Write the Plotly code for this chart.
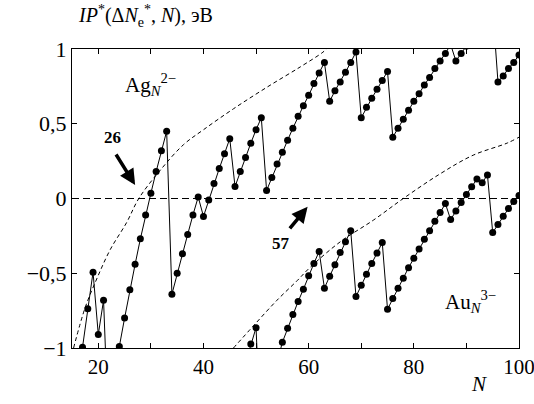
import plotly.graph_objects as go

# ---- data ----
ag_n = list(range(17, 101))
ag_ip = [-0.995, -0.738, -0.493, -0.91, -0.68, -1.6, -1.3, -0.99, -0.80, -0.61,
         -0.44, -0.27, -0.11, 0.035, 0.18, 0.32, 0.45, -0.64, -0.50, -0.37,
         -0.24, -0.11, 0.01, -0.12, -0.01, 0.10, 0.20, 0.30, 0.40, 0.08,
         0.18, 0.275, 0.37, 0.46, 0.54, 0.054, 0.14, 0.23, 0.31, 0.39,
         0.47, 0.55, 0.62, 0.69, 0.77, 0.84, 0.91, 0.65, 0.72, 0.78,
         0.845, 0.91, 0.98, 0.54, 0.61, 0.67, 0.73, 0.79, 0.85, 0.41,
         0.47, 0.53, 0.59, 0.65, 0.70, 0.76, 0.81, 0.87, 0.92, 0.97,
         1.03, 0.92, 0.97, 1.02, 1.07, 1.12, 1.17, 1.22, 1.27, 0.78,
         0.82, 0.87, 0.91, 0.96]

au_n = list(range(48, 101))
au_ip = [-1.1, -0.973, -0.864, -1.7, -1.5, -1.3, -1.1, -0.962, -0.868, -0.776,
         -0.689, -0.607, -0.517, -0.434, -0.354, -0.60, -0.52, -0.443, -0.362, -0.289,
         -0.215, -0.656, -0.58, -0.506, -0.434, -0.365, -0.295, -0.741, -0.669, -0.60,
         -0.533, -0.463, -0.40, -0.338, -0.273, -0.215, -0.152, -0.094, -0.034, -0.141,
         -0.083, -0.027, 0.027, 0.078, 0.13, 0.105, 0.158, -0.228, -0.174, -0.119,
         -0.067, -0.02, 0.02]

ag_fit_n = [15.3, 17.5, 19.8, 22.3, 25.4, 27.7, 31.8, 36.2, 40.0, 45.7, 52.1, 58.4, 62.5, 63.4]
ag_fit_v = [-1.0, -0.73, -0.53, -0.34, -0.16, 0.0, 0.19, 0.36, 0.46, 0.60, 0.745, 0.88, 0.973, 1.0]

au_fit_n = [45.7, 49.8, 54.0, 57.8, 60.3, 66.0, 72.3, 78.0, 85.0, 91.3, 97.7, 100]
au_fit_v = [-1.0, -0.84, -0.68, -0.55, -0.46, -0.29, -0.145, 0.0, 0.165, 0.29, 0.37, 0.41]

x_ticks = [20, 40, 60, 80, 100]
y_ticks = [-1, -0.5, 0, 0.5, 1]
y_tick_text = ["−1", "−0,5", "0", "0,5", "1"]

FONT = "Liberation Serif"

fig = go.Figure()

# zero line
fig.add_trace(go.Scatter(x=[15, 100], y=[0, 0], mode="lines",
                         line=dict(color="black", width=1, dash="7px,4px"),
                         hoverinfo="skip", showlegend=False))
# fit curves
fig.add_trace(go.Scatter(x=ag_fit_n, y=ag_fit_v, mode="lines",
                         line=dict(color="black", width=1, dash="4px,3px", shape="spline"),
                         showlegend=False))
fig.add_trace(go.Scatter(x=au_fit_n, y=au_fit_v, mode="lines",
                         line=dict(color="black", width=1, dash="4px,3px", shape="spline"),
                         showlegend=False))
# data series
fig.add_trace(go.Scatter(x=ag_n, y=ag_ip, mode="lines+markers",
                         line=dict(color="black", width=1),
                         marker=dict(color="black", size=7), showlegend=False))
fig.add_trace(go.Scatter(x=au_n, y=au_ip, mode="lines+markers",
                         line=dict(color="black", width=1),
                         marker=dict(color="black", size=7), showlegend=False))

axis_common = dict(showgrid=False, zeroline=False, showline=True, linecolor="black",
                   linewidth=1, mirror="ticks", ticks="inside", ticklen=5,
                   tickcolor="black", automargin=False, ticklabeloverflow="allow")

fig.update_xaxes(range=[15, 100], tickvals=x_ticks,
                 tickfont=dict(family=FONT, size=21, color="black"),
                 minor=dict(dtick=10, tick0=0, ticks="inside", ticklen=5, tickcolor="black"),
                 **axis_common)
fig.update_yaxes(range=[-1, 1], tickvals=y_ticks, ticktext=y_tick_text,
                 tickfont=dict(family=FONT, size=22, color="black"), **axis_common)

ann = []
ann.append(dict(xref="paper", yref="paper", x=0.0, y=1.0, xshift=4, yshift=33, xanchor="left",
                yanchor="middle", showarrow=False,
                text="<i>IP</i><sup>*</sup>(Δ<i>N</i><sub>e</sub><sup>*</sup>, <i>N</i>), эВ",
                font=dict(family=FONT, size=20, color="black")))
ann.append(dict(xref="paper", yref="paper", x=0.91, y=0.0, yshift=-36, xanchor="center",
                yanchor="middle", showarrow=False, text="<i>N</i>",
                font=dict(family=FONT, size=21, color="black")))
ann.append(dict(x=29.9, y=0.76, showarrow=False,
                text="Ag<sub><i>N</i></sub><sup>2−</sup>",
                font=dict(family=FONT, size=21, color="black")))
ann.append(dict(x=90.7, y=-0.69, showarrow=False,
                text="Au<sub><i>N</i></sub><sup>3−</sup>",
                font=dict(family=FONT, size=21, color="black")))
ann.append(dict(x=22.7, y=0.405, showarrow=False, text="<b>26</b>",
                font=dict(family=FONT, size=17, color="black")))
ann.append(dict(x=27.0, y=0.09, ax=-20, ay=-32, showarrow=True, arrowhead=2,
                arrowsize=0.9, arrowwidth=3.5, arrowcolor="black", text=""))
ann.append(dict(x=54.8, y=-0.30, showarrow=False, text="<b>57</b>",
                font=dict(family=FONT, size=17, color="black")))
ann.append(dict(x=59.8, y=-0.056, ax=-19, ay=23, showarrow=True, arrowhead=2,
                arrowsize=0.9, arrowwidth=3.5, arrowcolor="black", text=""))

fig.update_layout(width=534, height=404, margin=dict(l=72, r=15, t=49, b=56),
                  paper_bgcolor="white", plot_bgcolor="white", annotations=ann,
                  font=dict(family=FONT, color="black"))

fig.write_html("out.html")
